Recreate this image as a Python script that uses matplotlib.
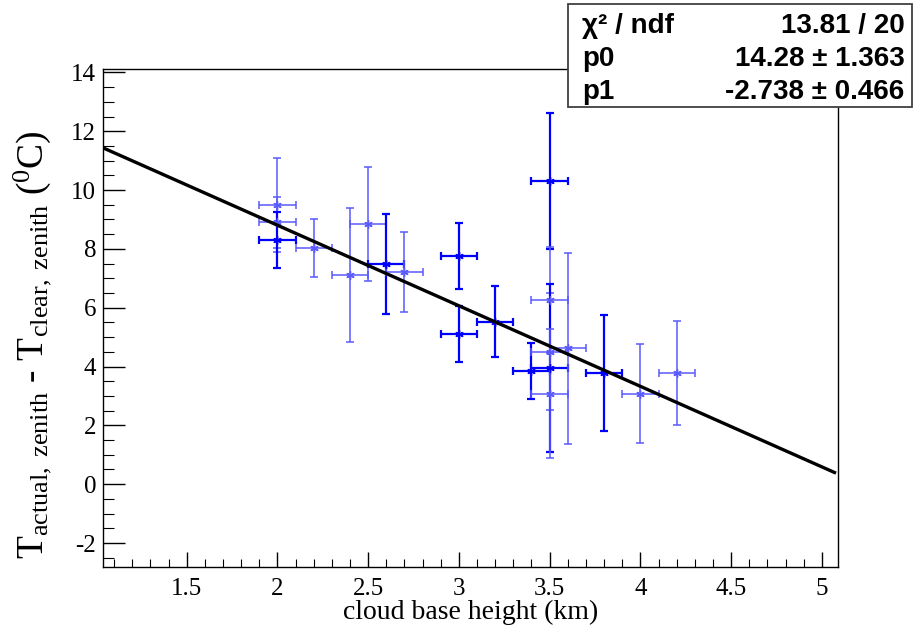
import numpy as np
import matplotlib
matplotlib.use('Agg')
import matplotlib.pyplot as plt
from matplotlib.ticker import MultipleLocator, FormatStrFormatter

# cloud base height (km) and temperature difference (deg C), with errors
height = [2.0, 2.0, 2.0, 2.2, 2.4, 2.5, 2.6, 2.7, 3.0, 3.0, 3.2, 3.4,
          3.5, 3.5, 3.5, 3.5, 3.5, 3.6, 3.8, 4.0, 4.2]
height_err = [0.1] * len(height)
dT = [9.50, 8.90, 8.31, 8.04, 7.10, 8.85, 7.48, 7.22, 7.76, 5.11, 5.53, 3.84,
      10.31, 6.26, 4.51, 3.95, 3.08, 4.62, 3.78, 3.08, 3.78]
dT_err = [1.59, 0.88, 0.96, 0.98, 2.28, 1.93, 1.71, 1.37, 1.12, 0.95, 1.21, 0.96,
          2.31, 1.80, 1.98, 2.87, 2.20, 3.24, 1.96, 1.69, 1.77]
# which points render as the heavier blue in the original
heavy = [0, 0, 1, 0, 0, 0, 1, 0, 1, 1, 1, 1,
         1, 0, 0, 1, 0, 0, 1, 0, 0]

# linear fit result
p0 = 14.28
p1 = -2.738
stats_labels = [u'\u03c7\u00b2 / ndf', 'p0', 'p1']
stats_values = ['13.81 / 20', u'14.28 \u00b1 1.363', u'-2.738 \u00b1 0.466']

plt.rcParams['font.family'] = 'Liberation Serif'
plt.rcParams['mathtext.fontset'] = 'custom'
plt.rcParams['mathtext.rm'] = 'Liberation Serif'
plt.rcParams['mathtext.it'] = 'Liberation Serif:italic'
plt.rcParams['axes.unicode_minus'] = False

fig = plt.figure(figsize=(9.18, 6.26), dpi=100)
ax = fig.add_axes([0.1125, 0.0945, 0.8005, 0.7945])

xlo, xhi = 1.04, 5.09
ax.set_xlim(xlo, xhi)
ax.set_ylim(-2.81, 14.1)

for i in range(len(height)):
    if heavy[i]:
        col, lw = '#0000ff', 1.6
    else:
        col, lw = '#5a5aff', 1.1
    ax.errorbar(height[i], dT[i], xerr=height_err[i], yerr=dT_err[i],
                fmt='none', ecolor=col, elinewidth=lw, capsize=2.6,
                capthick=lw, zorder=2)
    ax.plot(height[i], dT[i], marker=(6, 2, 0), ms=6, color=col, mew=1.0,
            ls='none', zorder=3)

xf = np.array([xlo, xhi - 0.02])
ax.plot(xf, p0 + p1 * xf, color='black', lw=2.4, zorder=4)

ax.xaxis.set_major_locator(MultipleLocator(0.5))
ax.xaxis.set_minor_locator(MultipleLocator(0.1))
ax.xaxis.set_major_formatter(FormatStrFormatter('%g'))
ax.yaxis.set_major_locator(MultipleLocator(2))
ax.yaxis.set_minor_locator(MultipleLocator(0.5))
ax.yaxis.set_major_formatter(FormatStrFormatter('%g'))
ax.tick_params(axis='x', which='major', direction='in', length=11, width=1.0,
               top=False, labelsize=18, pad=8)
ax.tick_params(axis='x', which='minor', direction='in', length=5.5, width=0.8, top=False)
ax.tick_params(axis='y', which='major', direction='in', length=16, width=1.0,
               right=False, labelsize=18, pad=5)
ax.tick_params(axis='y', which='minor', direction='in', length=8, width=0.8, right=False)
for s in ax.spines.values():
    s.set_linewidth(1.0)

ax.set_xlabel('cloud base height (km)', fontsize=20, labelpad=0)
fig.text(0.036, 0.45,
         r'T$_{\mathrm{actual,\ zenith}}$ - T$_{\mathrm{clear,\ zenith}}$ ($^{\mathrm{0}}$C)',
         fontsize=27, rotation=90, ha='center', va='center')

# stats box
bx0, bx1, by0, by1 = 0.619, 0.9935, 0.829, 0.994
fig.patches.append(plt.Rectangle((bx0, by0), bx1 - bx0, by1 - by0,
                                 transform=fig.transFigure, facecolor='white',
                                 edgecolor='#404040', lw=1.3, zorder=10))
rows = [0.958, 0.906, 0.853]
for lab, val, yy in zip(stats_labels, stats_values, rows):
    fig.text(bx0 + 0.015, yy, lab, family='Liberation Sans', weight='bold',
             fontsize=20, ha='left', va='center', zorder=11)
    fig.text(bx1 - 0.008, yy, val, family='Liberation Sans', weight='bold',
             fontsize=20, ha='right', va='center', zorder=11)

fig.savefig('out.png', dpi=100)
